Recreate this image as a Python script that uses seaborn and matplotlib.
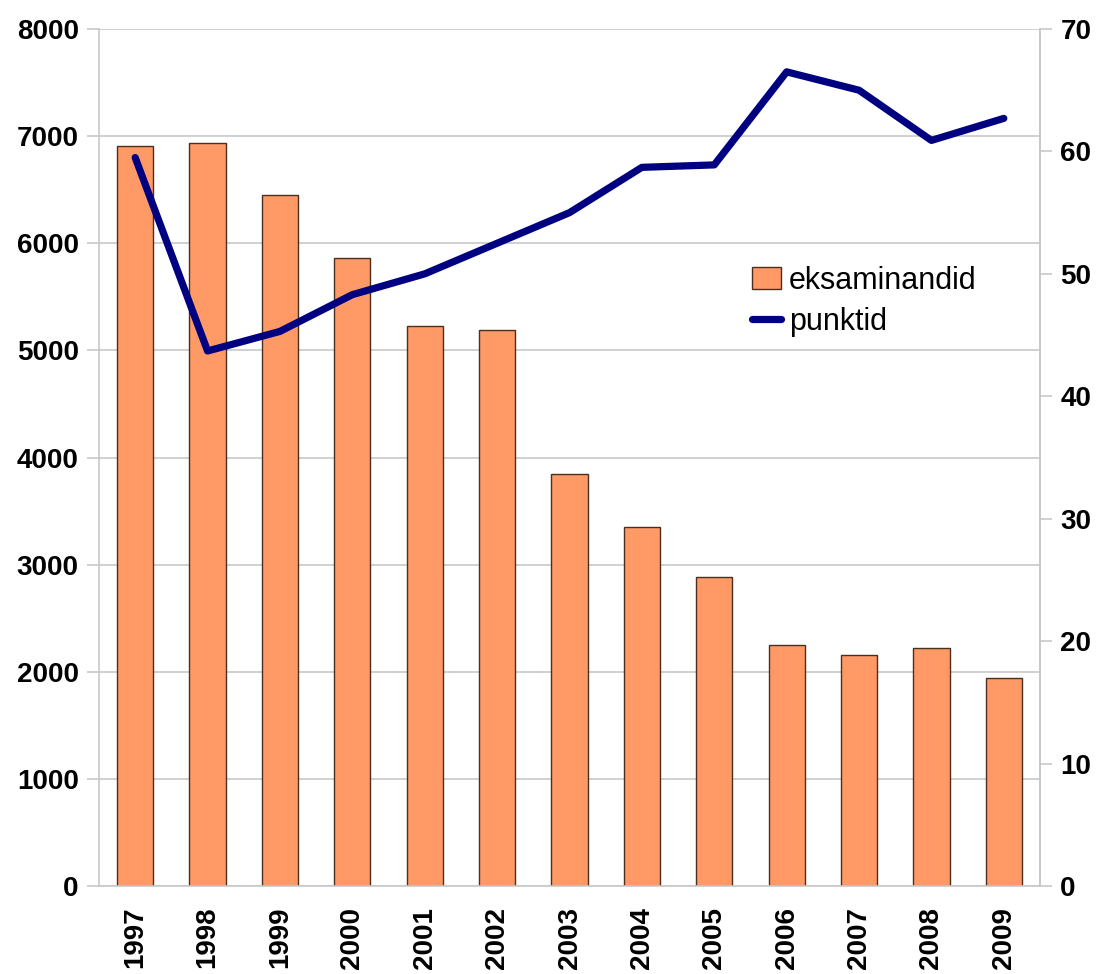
import numpy as np
import pandas as pd
import matplotlib
matplotlib.use("Agg")
import matplotlib.pyplot as plt
import seaborn as sns
from matplotlib.patches import Patch
from matplotlib.lines import Line2D

years = ["1997", "1998", "1999", "2000", "2001", "2002", "2003",
         "2004", "2005", "2006", "2007", "2008", "2009"]
eksaminandid = [6910, 6935, 6455, 5862, 5228, 5190, 3845, 3350, 2882, 2247, 2154, 2218, 1938]
punktid = [59.5, 43.7, 45.3, 48.3, 50.0, 52.5, 55.0, 58.7, 58.9, 66.5, 65.0, 60.9, 62.7]
left_ticks = [0, 1000, 2000, 3000, 4000, 5000, 6000, 7000, 8000]
right_ticks = [0, 10, 20, 30, 40, 50, 60, 70]

sns.set_style("white")
plt.rcParams['font.family'] = ['Liberation Sans', 'DejaVu Sans']
plt.rcParams['text.color'] = 'black'
plt.rcParams['xtick.color'] = 'black'
plt.rcParams['ytick.color'] = 'black'

bar_color = "#FF9966"
bar_edge = "#4a2e1e"
line_color = "#000080"
grid_color = "#C8C8C8"

fig = plt.figure(figsize=(10.98, 9.74), dpi=100)
L, R, B, T = 99 / 1098, 1040 / 1098, (974 - 886) / 974, (974 - 29) / 974
ax = fig.add_axes([L, B, R - L, T - B])

df = pd.DataFrame({"year": years, "eksaminandid": eksaminandid, "punktid": punktid})
sns.barplot(data=df, x="year", y="eksaminandid", color=bar_color, width=0.5,
            edgecolor=bar_edge, linewidth=1.0, saturation=1, ax=ax, zorder=2)
ax.set_xlim(-0.5, len(years) - 0.5)
ax.set_ylim(0, 8000)
ax.set_yticks(left_ticks)
ax.set_yticklabels([str(t) for t in left_ticks], fontsize=20, fontweight="bold")
ax.yaxis.grid(True, color=grid_color, linewidth=1.2, zorder=0)
ax.set_axisbelow(True)
ax.set_xlabel("")
ax.set_ylabel("")
ax.set_xticks(range(len(years)))
ax.set_xticklabels(years, rotation=90, fontsize=20, fontweight="bold")
ax.set_xticks(np.arange(-0.5, len(years), 1.0), minor=True)
ax.tick_params(axis="x", which="major", length=0, pad=15)
ax.tick_params(axis="x", which="minor", length=8.6, color=grid_color, width=1.2, direction="out")
ax.tick_params(axis="y", length=8.6, color=grid_color, labelcolor="black", width=1.2,
               direction="out", pad=6)
for s in ["left", "bottom", "right"]:
    ax.spines[s].set_color(grid_color)
    ax.spines[s].set_linewidth(1.2)
ax.spines["top"].set_visible(False)

ax2 = ax.twinx()
sns.lineplot(x=np.arange(len(years)), y=punktid, color=line_color, linewidth=5.2, ax=ax2,
             zorder=3)
ax2.set_ylim(0, 70)
ax2.set_yticks(right_ticks)
ax2.set_yticklabels([str(t) for t in right_ticks], fontsize=20, fontweight="bold")
ax2.tick_params(axis="y", length=8.6, color=grid_color, labelcolor="black", width=1.2,
                direction="out", pad=6)
ax2.set_ylabel("")
for s in ["left", "bottom", "top"]:
    ax2.spines[s].set_visible(False)
ax2.spines["right"].set_color(grid_color)
ax2.spines["right"].set_linewidth(1.2)
ax2.set_xlim(-0.5, len(years) - 0.5)

handles = [Patch(facecolor=bar_color, edgecolor=bar_edge, linewidth=1.0),
           Line2D([0], [0], color=line_color, linewidth=5.2)]
ax2.legend(handles, ["eksaminandid", "punktid"], loc="upper left",
           bbox_to_anchor=(0.694, 0.724), frameon=False, fontsize=22,
           borderpad=0, borderaxespad=0,
           handlelength=0.95, handleheight=0.75, handletextpad=0.25, labelspacing=0.38)

fig.savefig("out.png", dpi=100)
